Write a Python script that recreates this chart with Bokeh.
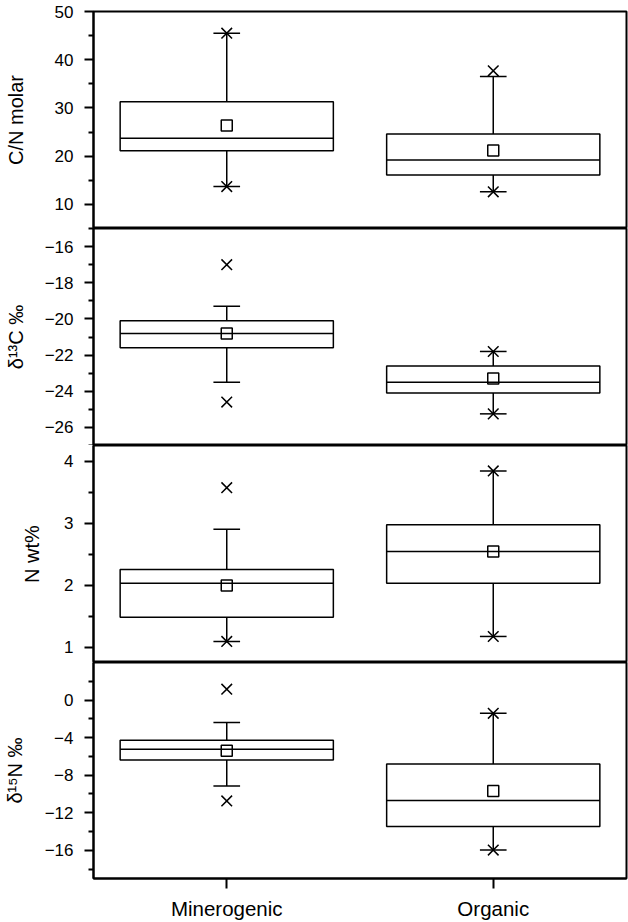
from bokeh.plotting import figure
from bokeh.models import FactorRange, Range1d, FixedTicker, ColumnDataSource
from bokeh.transform import dodge
from bokeh.layouts import column
from bokeh.embed import file_html
from bokeh.resources import INLINE

groups = ["Minerogenic", "Organic"]

# Panel 1: C/N molar
cn_whisk_lo = [13.7, 12.6]
cn_q1 = [21.1, 16.1]
cn_median = [23.7, 19.2]
cn_q3 = [31.3, 24.6]
cn_whisk_hi = [45.5, 36.5]
cn_mean = [26.35, 21.2]
cn_min = [13.7, 12.6]
cn_max = [45.5, 37.7]
cn_ticks = [10, 20, 30, 40, 50]
cn_minor = [5, 15, 25, 35, 45]

# Panel 2: d13C
c13_whisk_lo = [-23.5, -25.25]
c13_q1 = [-21.6, -24.1]
c13_median = [-20.8, -23.5]
c13_q3 = [-20.1, -22.6]
c13_whisk_hi = [-19.3, -21.8]
c13_mean = [-20.8, -23.3]
c13_min = [-24.6, -25.25]
c13_max = [-17.0, -21.8]
c13_ticks = [-26, -24, -22, -20, -18, -16]
c13_minor = [-27, -25, -23, -21, -19, -17, -15]

# Panel 3: N wt%
n_whisk_lo = [1.09, 1.17]
n_q1 = [1.48, 2.03]
n_median = [2.03, 2.54]
n_q3 = [2.25, 2.97]
n_whisk_hi = [2.9, 3.84]
n_mean = [1.99, 2.54]
n_min = [1.09, 1.17]
n_max = [3.57, 3.84]
n_ticks = [1, 2, 3, 4]
n_minor = [1.5, 2.5, 3.5]

# Panel 4: d15N
n15_whisk_lo = [-9.16, -15.97]
n15_q1 = [-6.39, -13.47]
n15_median = [-5.23, -10.7]
n15_q3 = [-4.28, -6.81]
n15_whisk_hi = [-2.4, -1.41]
n15_mean = [-5.4, -9.68]
n15_min = [-10.74, -15.97]
n15_max = [1.16, -1.41]
n15_ticks = [-16, -12, -8, -4, 0]
n15_minor = [-18, -14, -10, -6, -2, 2]

FONT = "Liberation Sans"
x_range = FactorRange(factors=groups, range_padding=0)


def make_panel(label, yr, ticks, minor, lo, q1, med, q3, hi, mean, mn, mx,
               height, top, bottom, label_standoff, show_x=False):
    p = figure(x_range=x_range, y_range=Range1d(*yr), width=628, height=height,
               output_backend="svg", toolbar_location=None,
               x_axis_location="below" if show_x else None,
               min_border_left=92, min_border_right=2,
               min_border_top=top, min_border_bottom=bottom)
    p.grid.visible = False
    p.outline_line_color = "black"
    p.outline_line_width = 2
    p.background_fill_color = "white"
    p.border_fill_color = "white"

    src = ColumnDataSource(dict(g=groups, lo=lo, q1=q1, med=med, q3=q3, hi=hi,
                                mean=mean, mn=mn, mx=mx))
    lw = 1.5
    # whiskers
    p.segment(x0="g", y0="lo", x1="g", y1="q1", source=src, line_color="black", line_width=lw)
    p.segment(x0="g", y0="q3", x1="g", y1="hi", source=src, line_color="black", line_width=lw)
    # caps
    for f in ("lo", "hi"):
        p.segment(x0=dodge("g", -0.05, range=x_range), y0=f,
                  x1=dodge("g", 0.05, range=x_range), y1=f,
                  source=src, line_color="black", line_width=lw)
    # box
    p.vbar(x="g", width=0.8, bottom="q1", top="q3", source=src,
           fill_color="white", line_color="black", line_width=lw)
    # median
    p.segment(x0=dodge("g", -0.4, range=x_range), y0="med",
              x1=dodge("g", 0.4, range=x_range), y1="med",
              source=src, line_color="black", line_width=lw)
    # mean
    p.scatter(x="g", y="mean", source=src, marker="square", size=11,
              fill_color=None, line_color="black", line_width=lw)
    # extremes
    p.scatter(x="g", y="mn", source=src, marker="x", size=15,
              line_color="black", line_width=lw)
    p.scatter(x="g", y="mx", source=src, marker="x", size=15,
              line_color="black", line_width=lw)

    ya = p.yaxis[0]
    ya.ticker = FixedTicker(ticks=ticks, minor_ticks=minor)
    ya.major_label_overrides = {t: str(t).replace("-", "\u2212") for t in ticks}
    ya.axis_label = label
    ya.axis_label_text_font = FONT
    ya.axis_label_text_font_style = "normal"
    ya.axis_label_text_font_size = "20px"
    ya.axis_label_text_color = "black"
    ya.axis_label_standoff = label_standoff
    ya.major_label_text_font = FONT
    ya.major_label_text_font_size = "17px"
    ya.major_label_text_color = "black"
    ya.major_label_standoff = 11
    ya.axis_line_width = 2
    ya.axis_line_color = "black"
    ya.major_tick_out = 9
    ya.major_tick_in = 0
    ya.minor_tick_out = 5
    ya.minor_tick_in = 0
    ya.major_tick_line_width = 2
    ya.minor_tick_line_width = 2
    ya.major_tick_line_color = "black"
    ya.minor_tick_line_color = "black"

    if show_x:
        xa = p.xaxis[0]
        xa.major_label_text_font = FONT
        xa.major_label_text_font_size = "20.5px"
        xa.major_label_text_color = "black"
        xa.major_label_standoff = 8
        xa.axis_line_width = 2
        xa.axis_line_color = "black"
        xa.major_tick_out = 10
        xa.major_tick_in = 0
        xa.major_tick_line_width = 2
        xa.major_tick_line_color = "black"
    return p


p1 = make_panel("C/N molar", (5, 50), cn_ticks, cn_minor, cn_whisk_lo, cn_q1, cn_median,
                cn_q3, cn_whisk_hi, cn_mean, cn_min, cn_max, 228, 11, 0, 25)
p2 = make_panel("\u03b4\u00b9\u00b3C \u2030", (-27, -15), c13_ticks, c13_minor, c13_whisk_lo,
                c13_q1, c13_median, c13_q3, c13_whisk_hi, c13_mean, c13_min, c13_max,
                217, 0, 0, 15)
p3 = make_panel("N wt%", (0.75, 4.25), n_ticks, n_minor, n_whisk_lo, n_q1, n_median,
                n_q3, n_whisk_hi, n_mean, n_min, n_max, 217, 0, 0, 18)
p4 = make_panel("\u03b4\u00b9\u2075N \u2030", (-19, 4), n15_ticks, n15_minor, n15_whisk_lo,
                n15_q1, n15_median, n15_q3, n15_whisk_hi, n15_mean, n15_min, n15_max,
                260, 0, 43, 16, show_x=True)

layout = column(p1, p2, p3, p4, spacing=0)
open("out.html", "w").write(file_html(layout, INLINE))
